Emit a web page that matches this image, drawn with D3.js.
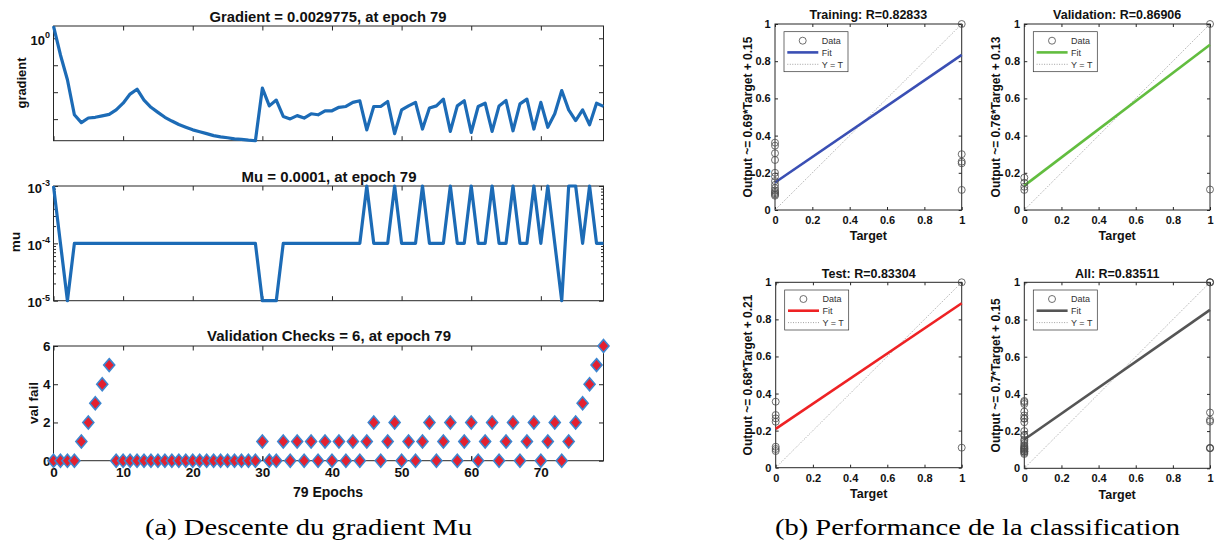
<!DOCTYPE html>
<html><head><meta charset="utf-8">
<script src="https://cdn.jsdelivr.net/npm/d3@7"></script>
<style>body{margin:0;background:#fff}svg{display:block}</style>
</head><body><svg id="c" width="1217" height="553"></svg>
<script>
// ---------------- data ----------------
const epochTicks = [0,10,20,30,40,50,60,70];
const gradient = [
 2.8, 0.24, 0.029, 0.00145, 0.00074, 0.0011, 0.00117, 0.00132, 0.0015, 0.0022,
 0.0039, 0.0085, 0.0129, 0.0051, 0.00275, 0.00178, 0.00117, 0.00085, 0.00063, 0.0005,
 0.0004, 0.00034, 0.00029, 0.000245, 0.00022, 0.000204, 0.000186, 0.000178, 0.000166, 0.000158,
 0.0141, 0.0031, 0.0051, 0.00126, 0.00102, 0.00135, 0.0011, 0.00158, 0.00145, 0.00204,
 0.00204, 0.00275, 0.00295, 0.0042, 0.0048, 0.0004, 0.00295, 0.00295, 0.0045, 0.00029,
 0.0022, 0.0031, 0.0042, 0.00043, 0.0026, 0.0031, 0.0055, 0.00035, 0.0031, 0.0048,
 0.00032, 0.00295, 0.0039, 0.00035, 0.0031, 0.0049, 0.00037, 0.0037, 0.0055, 0.00043,
 0.0042, 0.0005, 0.00158, 0.0115, 0.0022, 0.00089, 0.0022, 0.00062, 0.0039, 0.0029775
];
const mu = [
 1e-3, 1e-4, 1e-5, 1e-4, 1e-4, 1e-4, 1e-4, 1e-4, 1e-4, 1e-4,
 1e-4, 1e-4, 1e-4, 1e-4, 1e-4, 1e-4, 1e-4, 1e-4, 1e-4, 1e-4,
 1e-4, 1e-4, 1e-4, 1e-4, 1e-4, 1e-4, 1e-4, 1e-4, 1e-4, 1e-4,
 1e-5, 1e-5, 1e-5, 1e-4, 1e-4, 1e-4, 1e-4, 1e-4, 1e-4, 1e-4,
 1e-4, 1e-4, 1e-4, 1e-4, 1e-4, 1e-3, 1e-4, 1e-4, 1e-4, 1e-3,
 1e-4, 1e-4, 1e-4, 1e-3, 1e-4, 1e-4, 1e-4, 1e-3, 1e-4, 1e-4,
 1e-3, 1e-4, 1e-4, 1e-3, 1e-4, 1e-4, 1e-3, 1e-4, 1e-4, 1e-3,
 1e-4, 1e-3, 1e-4, 1e-5, 1e-3, 1e-3, 1e-4, 1e-3, 1e-4, 1e-4
];
const valFail = [
 0,0,0,0,1,2,3,4,5,0,
 0,0,0,0,0,0,0,0,0,0,
 0,0,0,0,0,0,0,0,0,0,
 1,0,0,1,0,1,0,1,0,1,
 0,1,0,1,0,1,2,0,1,2,
 0,1,0,1,2,0,1,2,0,1,
 2,0,1,2,0,1,2,0,1,2,
 0,1,2,0,1,2,3,4,5,6
];
const gradTicks = [1, 0.1, 0.01, 0.001];
const muTicks = [1e-3, 1e-4, 1e-5];
const valTicks = [0,2,4,6];

const regTicks = [0,0.2,0.4,0.6,0.8,1];
const trainTarget = [0,0,0,0,0,0,0,0,0,0,0,0,0,0,1,1,1,1,1];
const trainOutput = [0.362,0.346,0.305,0.269,0.20,0.18,0.155,0.135,0.118,0.105,0.097,0.09,0.083,0.077,1.0,0.30,0.26,0.251,0.108];
const valTarget = [0,0,0,0,1,1];
const valOutput = [0.174,0.147,0.125,0.108,1.0,0.11];
const testTarget = [0,0,0,0,0,0,0,1,1];
const testOutput = [0.356,0.284,0.266,0.248,0.113,0.101,0.09,1.0,0.108];
const panelNames = ["Training","Validation","Test","All"];
const rValues = ["0.82833","0.86906","0.83304","0.83511"];
const slopeLabels = ["0.69","0.76","0.68","0.7"];
const interceptLabels = ["0.15","0.13","0.21","0.15"];
const fitSlopes = [0.686, 0.757, 0.678, 0.697];
const fitIntercepts = [0.148, 0.131, 0.209, 0.155];
const fitColors = ["#3a4fb4","#62bd3f","#ee2224","#555555"];

// ---------------- drawing ----------------
const svg = d3.select("#c");
const AX = "#262626";
const SANS = '"Liberation Sans", Arial, sans-serif';
const LINE = "#1c6bb6";

function frame(x0,x1,y0,y1){
  svg.append("rect").attr("x",x0).attr("y",y0).attr("width",x1-x0).attr("height",y1-y0)
    .attr("fill","none").attr("stroke",AX).attr("stroke-width",1);
}
function styleAxis(g, fs){
  g.attr("font-family",SANS).attr("font-size",fs).attr("font-weight","bold");
  g.select(".domain").remove();
  g.selectAll(".tick line").attr("stroke",AX);
  g.selectAll(".tick text").attr("fill","#111");
}
function label(x,y,txt,fs,opts={}){
  const t = svg.append("text").attr("x",x).attr("y",y).text(txt)
    .attr("font-family",opts.family||SANS).attr("font-size",fs)
    .attr("font-weight",opts.weight||"bold").attr("fill",opts.fill||"#111")
    .attr("text-anchor",opts.anchor||"middle");
  if(opts.rotate){ t.attr("transform",`rotate(-90,${x},${y})`).attr("dominant-baseline","central"); }
  if(opts.len){ t.attr("textLength",opts.len).attr("lengthAdjust","spacingAndGlyphs"); }
  return t;
}

// ===== left panel =====
const xE = d3.scaleLinear().domain([0,79]).range([53.5,603.5]);
const Lx0 = 53.5, Lx1 = 603.5;
const yG = d3.scaleLog().domain([Math.pow(10,-3.8), Math.pow(10,0.456)]).range([140.7,26]);
const yM = d3.scaleLog().domain([1e-5,1e-3]).range([300.7,186]);
const yV = d3.scaleLinear().domain([0,6]).range([460.7,346]);
const intFmt = d3.format("d");

function leftFrameAxes(ys, y0, y1, yticks, minor){
  svg.append("g").attr("transform",`translate(0,${y1})`)
    .call(d3.axisBottom(xE).tickValues(epochTicks).tickSizeInner(-4.5).tickSizeOuter(0).tickFormat(""))
    .call(g=>styleAxis(g,13));
  svg.append("g").attr("transform",`translate(0,${y0})`)
    .call(d3.axisTop(xE).tickValues(epochTicks).tickSizeInner(-4.5).tickSizeOuter(0).tickFormat(""))
    .call(g=>styleAxis(g,13));
  svg.append("g").attr("transform",`translate(${Lx1},0)`)
    .call(d3.axisRight(ys).tickValues(yticks).tickSizeInner(-4.5).tickSizeOuter(0).tickFormat(""))
    .call(g=>styleAxis(g,13));
  if(minor){
    svg.append("g").attr("transform",`translate(${Lx0},0)`)
      .call(d3.axisLeft(ys).tickValues(minor).tickSizeInner(-2.5).tickSizeOuter(0).tickFormat(""))
      .call(g=>styleAxis(g,13));
    svg.append("g").attr("transform",`translate(${Lx1},0)`)
      .call(d3.axisRight(ys).tickValues(minor).tickSizeInner(-2.5).tickSizeOuter(0).tickFormat(""))
      .call(g=>styleAxis(g,13));
  }
  frame(Lx0,Lx1,y0,y1);
}
function sciLabels(ys, ticks, shown){
  ticks.forEach(t=>{
    if(!shown(t)) return;
    const e = Math.round(Math.log10(t));
    const tx = svg.append("text").attr("x",Lx0-3.5).attr("y",ys(t)+6.5)
      .attr("text-anchor","end").attr("font-family",SANS).attr("font-weight","bold")
      .attr("font-size",13).attr("fill","#111");
    tx.append("tspan").text("10");
    tx.append("tspan").attr("dy",-6.5).attr("font-size",9).text(String(e));
  });
}

// gradient
svg.append("g").attr("transform",`translate(${Lx0},0)`)
  .call(d3.axisLeft(yG).tickValues(gradTicks).tickSizeInner(-4.5).tickSizeOuter(0).tickFormat(""))
  .call(g=>styleAxis(g,13));
leftFrameAxes(yG, 26, 140.7, gradTicks, null);
sciLabels(yG, gradTicks, t=>t===1);
svg.append("path").datum(gradient)
  .attr("d", d3.line().x((d,i)=>xE(i)).y(d=>yG(d)))
  .attr("fill","none").attr("stroke",LINE).attr("stroke-width",3.2).attr("stroke-linejoin","round");
label(328,21.5,"Gradient = 0.0029775, at epoch 79",14.5,{len:237});
label(21,83,"gradient",13.5,{rotate:true,len:51});

// mu
const muMinor = [];
[1e-5,1e-4].forEach(b=>{ for(let k=2;k<=9;k++) muMinor.push(b*k); });
svg.append("g").attr("transform",`translate(${Lx0},0)`)
  .call(d3.axisLeft(yM).tickValues(muTicks).tickSizeInner(-4.5).tickSizeOuter(0).tickFormat(""))
  .call(g=>styleAxis(g,13));
leftFrameAxes(yM, 186, 300.7, muTicks, muMinor);
sciLabels(yM, muTicks, ()=>true);
svg.append("path").datum(mu)
  .attr("d", d3.line().x((d,i)=>xE(i)).y(d=>yM(d)))
  .attr("fill","none").attr("stroke",LINE).attr("stroke-width",3.2).attr("stroke-linejoin","round");
label(329,181.5,"Mu = 0.0001, at epoch 79",14.5,{len:175});
label(15,242,"mu",13.5,{rotate:true});

// validation checks
svg.append("g").attr("transform",`translate(${Lx0},0)`)
  .call(d3.axisLeft(yV).tickValues(valTicks).tickSizeInner(-4.5).tickSizeOuter(0).tickPadding(3).tickFormat(intFmt))
  .call(g=>styleAxis(g,13.5));
svg.append("g").attr("transform",`translate(0,460.7)`)
  .call(d3.axisBottom(xE).tickValues(epochTicks).tickSizeInner(-4.5).tickSizeOuter(0).tickPadding(6.5).tickFormat(intFmt))
  .call(g=>styleAxis(g,13.5));
leftFrameAxes(yV, 346, 460.7, valTicks, null);
svg.append("g").selectAll("path").data(valFail).join("path")
  .attr("d",(d,i)=>{const x=xE(i), y=yV(d); return `M${x},${y-6.5}L${x+5.5},${y}L${x},${y+6.5}L${x-5.5},${y}Z`;})
  .attr("fill","#e3202f").attr("stroke","#3d86d0").attr("stroke-width",1.6);
label(329,340.5,"Validation Checks = 6, at epoch 79",14.5,{len:244});
label(33.5,403,"val fail",13.5,{rotate:true,len:42});
label(328,496.5,"79 Epochs",14,{len:70});

// ===== right panel =====
const panels = [
  {x0:775,   x1:961.7, y0:24,    y1:210,   ylx:747.5},
  {x0:1024.3,x1:1210,  y0:24,    y1:210,   ylx:996},
  {x0:775.7, x1:961.7, y0:282.3, y1:467.7, ylx:747.5},
  {x0:1024.3,x1:1210,  y0:282.3, y1:468.3, ylx:996}
];
const targets = [trainTarget, valTarget, testTarget, trainTarget.concat(valTarget, testTarget)];
const outputs = [trainOutput, valOutput, testOutput, trainOutput.concat(valOutput, testOutput)];
const fmt = d3.format("~g");

panels.forEach((p,i)=>{
  const x = d3.scaleLinear().domain([0,1]).range([p.x0,p.x1]);
  const y = d3.scaleLinear().domain([0,1]).range([p.y1,p.y0]);
  svg.append("g").attr("transform",`translate(0,${p.y1})`)
    .call(d3.axisBottom(x).tickValues(regTicks).tickSizeInner(-3).tickSizeOuter(0).tickPadding(6.2).tickFormat(fmt))
    .call(g=>styleAxis(g,11));
  svg.append("g").attr("transform",`translate(0,${p.y0})`)
    .call(d3.axisTop(x).tickValues(regTicks).tickSizeInner(-3).tickSizeOuter(0).tickFormat(""))
    .call(g=>styleAxis(g,11));
  svg.append("g").attr("transform",`translate(${p.x0},0)`)
    .call(d3.axisLeft(y).tickValues(regTicks).tickSizeInner(-3).tickSizeOuter(0).tickPadding(4.3).tickFormat(fmt))
    .call(g=>styleAxis(g,11));
  svg.append("g").attr("transform",`translate(${p.x1},0)`)
    .call(d3.axisRight(y).tickValues(regTicks).tickSizeInner(-3).tickSizeOuter(0).tickFormat(""))
    .call(g=>styleAxis(g,11));
  frame(p.x0,p.x1,p.y0,p.y1);

  svg.append("line").attr("x1",x(0)).attr("y1",y(0)).attr("x2",x(1)).attr("y2",y(1))
    .attr("stroke","#8a8a8a").attr("stroke-width",0.8).attr("stroke-dasharray","1,1.5");
  svg.append("line").attr("x1",x(0)).attr("y1",y(fitIntercepts[i]))
    .attr("x2",x(1)).attr("y2",y(fitIntercepts[i]+fitSlopes[i]))
    .attr("stroke",fitColors[i]).attr("stroke-width",2.6);
  svg.append("g").selectAll("circle").data(outputs[i]).join("circle")
    .attr("cx",(d,k)=>x(targets[i][k])).attr("cy",d=>y(d)).attr("r",3.5)
    .attr("fill","none").attr("stroke","#4a4a4a").attr("stroke-width",0.8);

  const lx = p.x0+9, ly = p.y0+7.7;
  svg.append("rect").attr("x",lx).attr("y",ly).attr("width",64).attr("height",40)
    .attr("fill","#fff").attr("stroke","#333").attr("stroke-width",0.7);
  svg.append("circle").attr("cx",lx+18.7).attr("cy",ly+9).attr("r",3.5)
    .attr("fill","none").attr("stroke","#4a4a4a").attr("stroke-width",0.8);
  svg.append("line").attr("x1",lx+3.3).attr("x2",lx+34.3).attr("y1",ly+20.7).attr("y2",ly+20.7)
    .attr("stroke",fitColors[i]).attr("stroke-width",2.6);
  svg.append("line").attr("x1",lx+3.3).attr("x2",lx+34.3).attr("y1",ly+32.6).attr("y2",ly+32.6)
    .attr("stroke","#8a8a8a").attr("stroke-width",0.8).attr("stroke-dasharray","1,1.5");
  ["Data","Fit","Y = T"].forEach((t,k)=>{
    label(lx+37.7, ly+[9,20.7,32.6][k]+3.2, t, 9, {anchor:"start",weight:"normal",fill:"#333"});
  });

  const cx = (p.x0+p.x1)/2;
  label(cx, p.y0-4.7, `${panelNames[i]}: R=${rValues[i]}`, 12.5);
  label(cx, p.y1+30.3, "Target", 12.5);
  label(p.ylx, (p.y0+p.y1)/2, `Output ~= ${slopeLabels[i]}*Target + ${interceptLabels[i]}`, 12, {rotate:true});
});

// captions
const SERIF = '"Liberation Serif", "DejaVu Serif", serif';
label(308.5,535,"(a) Descente du gradient Mu",23,{family:SERIF,weight:"normal",fill:"#000",len:327});
label(977.5,535,"(b) Performance de la classification",23,{family:SERIF,weight:"normal",fill:"#000",len:405});
</script>
</body></html>
